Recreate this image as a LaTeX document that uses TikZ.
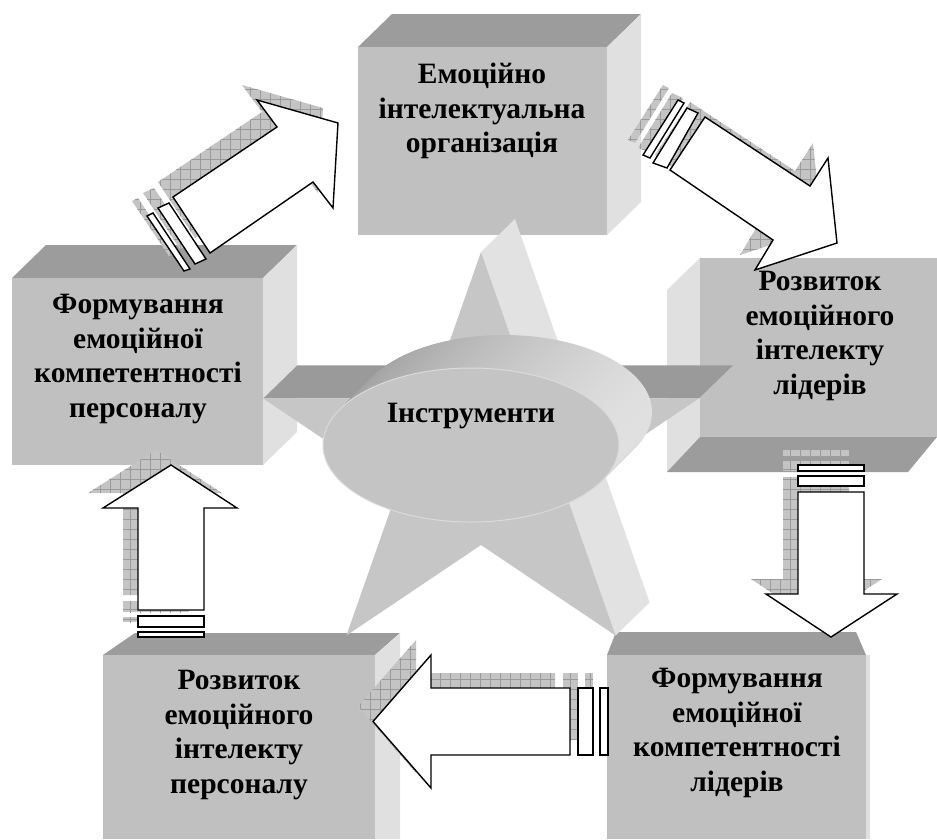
\documentclass[tikz,border=0pt]{standalone}
\usepackage{fontspec}
\setmainfont{Liberation Serif}
\usetikzlibrary{patterns.meta,calc}
\definecolor{frontc}{HTML}{C0C0C0}
\definecolor{topc}{HTML}{9C9C9C}
\definecolor{sidec}{HTML}{E0E0E0}
\definecolor{starc}{HTML}{C6C6C6}
\definecolor{stardark}{HTML}{9A9A9A}
\definecolor{starlight}{HTML}{E2E2E2}
\definecolor{shadc}{HTML}{C4C4C4}
\definecolor{hatchc}{HTML}{9A9A9A}
\tikzset{
  frontface/.style={fill=frontc, draw=none, inner sep=0pt, anchor=north west},
  topface/.style={fill=topc},
  sideface/.style={fill=sidec},
  boxtext/.style={align=center, font=\bfseries\fontsize{29.5}{34.5}\selectfont, inner sep=0pt},
  shadowfill/.style={fill=shadc, postaction={pattern={Hatch[distance=10pt,line width=0.5pt]}, pattern color=hatchc}},
  arrowbody/.style={fill=white, draw=black, line width=1.4pt, line join=miter},
}
\begin{document}
\begin{tikzpicture}[x=1pt,y=-1pt]
\useasboundingbox (0,0) rectangle (937,839);
\fill[white] (0,0) rectangle (937,839);

% ---------- boxes ----------
% top box
\fill[topface] (358,47) -- (392,14) -- (641,14) -- (607,47) -- cycle;
\fill[sideface] (607,47) -- (641,14) -- (641,202) -- (607,235) -- cycle;
\node[frontface, minimum width=249pt, minimum height=188pt] (b1) at (358,47) {};
% left box
\fill[topface] (12,278) -- (46,245) -- (297,245) -- (263,278) -- cycle;
\fill[sideface] (263,278) -- (297,245) -- (297,432) -- (263,465) -- cycle;
\node[frontface, minimum width=251pt, minimum height=187pt] (b2) at (12,278) {};
% right box
\fill[sideface] (700,258) -- (667,290) -- (667,472) -- (700,437) -- cycle;
\fill[topface] (700,437) -- (937,437) -- (908,472) -- (667,472) -- cycle;
\node[frontface, minimum width=237pt, minimum height=179pt] (b3) at (700,258) {};
% bottom right box
\fill[topface] (607,655) -- (616,632) -- (856,632) -- (866,655) -- cycle;
\fill[sideface] (866,655) -- (870,655) -- (870,839) -- (866,839) -- cycle;
\node[frontface, minimum width=259pt, minimum height=184pt] (b4) at (607,655) {};
% bottom left box
\fill[topface] (103,655) -- (135,633) -- (400,633) -- (375,655) -- cycle;
\fill[sideface] (375,655) -- (400,633) -- (400,839) -- (375,839) -- cycle;
\node[frontface, minimum width=272pt, minimum height=184pt] (b5) at (103,655) {};

% ---------- star ----------
\foreach \k in {0,...,4}{
  \coordinate (o\k) at ({481+229*sin(72*\k)},{464-212*cos(72*\k)});
  \coordinate (i\k) at ({481+87.5*sin(72*\k+36)},{464-81*cos(72*\k+36)});
}
\fill[starlight] (o0) -- (i0) -- ($(i0)+(34,-33)$) -- ($(o0)+(34,-33)$) -- cycle;
\fill[starlight] (i1) -- (o2) -- ($(o2)+(34,-33)$) -- ($(i1)+(34,-33)$) -- cycle;
\fill[stardark] (i0) -- (o1) -- ($(o1)+(34,-33)$) -- ($(i0)+(34,-33)$) -- cycle;
\fill[stardark] (o4) -- (i4) -- ($(i4)+(34,-33)$) -- ($(o4)+(34,-33)$) -- cycle;
\fill[starc] (o0) -- (i0) -- (o1) -- (i1) -- (o2) -- (i2) -- (o3) -- (i3) -- (o4) -- (i4) -- cycle;

% ---------- ellipse ----------
\foreach \i in {33,32.5,...,0.5}
  \shade[left color=black!38, right color=black!12] ({471+\i},{445-\i}) ellipse [x radius=148pt, y radius=77pt];
\fill[fill=black!23, draw=black!14, line width=1pt] (471,445) ellipse [x radius=148pt, y radius=77pt];

% ---------- texts ----------
\node[boxtext] (t1) at (482,111) {Емоційно\\інтелектуальна\\організація};
\node[boxtext] (t2) at (138,359) {Формування\\емоційної\\компетентності\\персоналу};
\node[boxtext] (t3) at (820,336) {Розвиток\\емоційного\\інтелекту\\лідерів};
\node[boxtext] (t4) at (737,733) {Формування\\емоційної\\компетентності\\лідерів};
\node[boxtext] (t5) at (239,735) {Розвиток\\емоційного\\інтелекту\\персоналу};
\node[boxtext] (t0) at (471,416) {Інструменти};

% ---------- arrows ----------
\def\arrA{(210,253) -- (313,182) -- (333,208) -- (338,123) -- (257,100) -- (277,127) -- (173,197) -- cycle}
\def\arrAs{(158,208) -- (169,203) -- (206,259) -- (195,264) -- cycle}
\def\arrAt{(147,216) -- (153,213) -- (190,269) -- (184,271) -- cycle}
\def\arrB{(705,117) -- (810,186) -- (828,158) -- (837,243) -- (755,270) -- (773,240) -- (670,170) -- cycle}
\def\arrBs{(687,108) -- (698,113) -- (667,168) -- (653,163) -- cycle}
\def\arrBt{(678,100) -- (684,103) -- (650,158) -- (643,155) -- cycle}
\def\arrC{(798,492) -- (864,492) -- (864,594) -- (897,594) -- (831,637) -- (766,594) -- (798,594) -- cycle}
\def\arrCs{(798,476) rectangle (864,486)}
\def\arrCt{(798,465) rectangle (864,471)}
\def\arrD{(570,688) -- (570,755) -- (431,755) -- (431,788) -- (373,721.5) -- (431,655) -- (431,688) -- cycle}
\def\arrDs{(578,688) rectangle (593,755)}
\def\arrDt{(600,688) rectangle (608,755)}
\def\arrE{(138,610) -- (138,508) -- (103,508) -- (171,465) -- (237,508) -- (204,508) -- (204,610) -- cycle}
\def\arrEs{(138,616) rectangle (204,627)}
\def\arrEt{(138,632) rectangle (204,637)}

\begin{scope}[shift={(-15,-15)}]
  \foreach \p in {\arrA,\arrAs,\arrAt,\arrB,\arrBs,\arrBt,\arrC,\arrCs,\arrCt,\arrD,\arrDs,\arrDt,\arrE,\arrEs,\arrEt}
    \path[shadowfill] \p;
\end{scope}
\foreach \p in {\arrA,\arrAs,\arrAt,\arrB,\arrBs,\arrBt,\arrC,\arrCs,\arrCt,\arrD,\arrDs,\arrDt,\arrE,\arrEs,\arrEt}
  \path[arrowbody] \p;
\end{tikzpicture}
\end{document}
